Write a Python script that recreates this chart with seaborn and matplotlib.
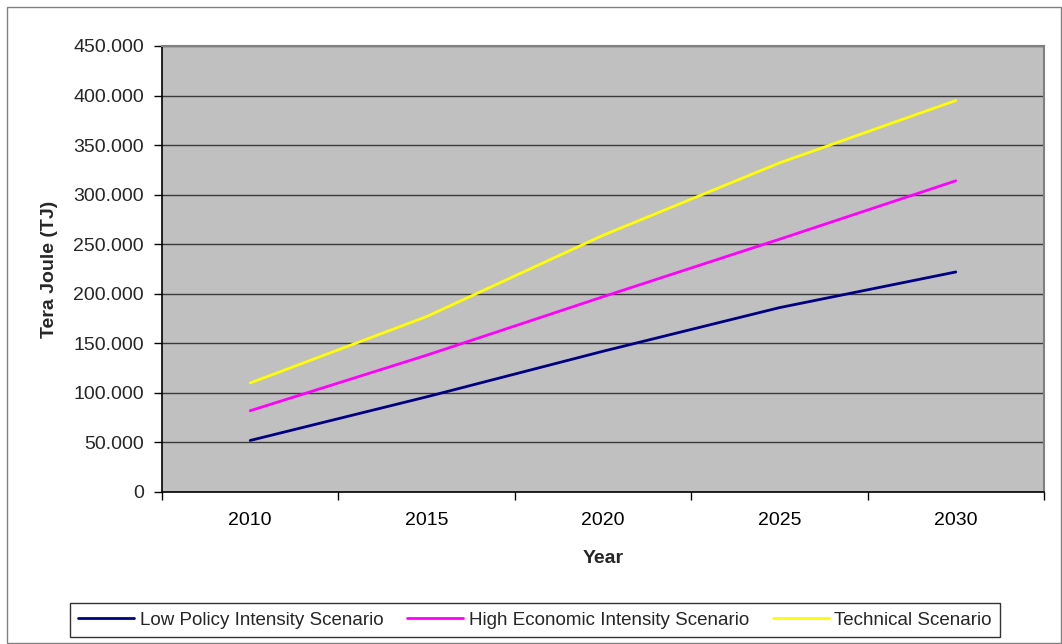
import matplotlib.pyplot as plt
import seaborn as sns
import pandas as pd
from matplotlib.patches import Rectangle
from matplotlib.ticker import FuncFormatter, FixedLocator

# Data (TJ)
years = ['2010', '2015', '2020', '2025', '2030']
low_policy = [52000, 96000, 142000, 186000, 222000]
high_economic = [82000, 138000, 197000, 255000, 314000]
technical = [110000, 177000, 259000, 332000, 395000]

scenarios = ['Low Policy Intensity Scenario', 'High Economic Intensity Scenario', 'Technical Scenario']
colors = ['#000080', '#FF00FF', '#FFFF00']

df = pd.DataFrame({
    'Year': years * 3,
    'TJ': low_policy + high_economic + technical,
    'Scenario': [s for s in scenarios for _ in years],
})

sns.set_theme(style="white")
plt.rcParams['font.family'] = ['Liberation Sans', 'DejaVu Sans']

fig = plt.figure(figsize=(10.62, 6.44), dpi=100)
ax = fig.add_axes([162 / 1062, 1 - 492 / 644, (1044 - 162) / 1062, (492 - 46) / 644])
ax.set_facecolor('#C0C0C0')

sns.lineplot(data=df, x='Year', y='TJ', hue='Scenario', palette=colors,
             linewidth=2.0, ax=ax, legend=False, sort=False)

ax.set_xlim(-0.5, len(years) - 0.5)
ax.set_ylim(0, 450000)
ax.set_yticks(range(0, 450001, 50000))
ax.yaxis.set_major_formatter(FuncFormatter(
    lambda v, p: '0' if v == 0 else '{:,.0f}'.format(v).replace(',', '.')))
ax.yaxis.grid(True, color='#3a3a3a', linewidth=1.0)
ax.set_axisbelow(True)

# category labels centred, tick marks between categories (Excel style)
ax.set_xticks(range(len(years)))
ax.set_xticklabels(years)
ax.xaxis.set_minor_locator(FixedLocator([i - 0.5 for i in range(len(years) + 1)]))
ax.tick_params(axis='x', which='major', length=0, labelsize=14, pad=14.5, colors='black')
ax.tick_params(axis='x', which='minor', length=6, width=1, color='black', direction='out', bottom=True)
ax.tick_params(axis='y', length=6, width=1, color='black', direction='out', left=True, labelsize=14, pad=7)

for side in ['left', 'bottom']:
    ax.spines[side].set_color('black')
    ax.spines[side].set_linewidth(1.2)
for side in ['top', 'right']:
    ax.spines[side].set_color('#808080')
    ax.spines[side].set_linewidth(1.5)

ax.set_xlabel('Year', fontsize=14, fontweight='bold', labelpad=15)
ax.set_ylabel('Tera Joule (TJ)', fontsize=14, fontweight='bold', labelpad=11)

# legend box at the bottom
handles = [plt.Line2D([], [], color=c, linewidth=2.0) for c in colors]
leg = fig.legend(handles, scenarios, loc='center', bbox_to_anchor=(535 / 1062, 1 - 620 / 644),
                 ncol=3, frameon=True, fancybox=False, fontsize=13.5, handlelength=3.0,
                 handletextpad=0.3, columnspacing=1.25, borderpad=0.45)
leg.get_frame().set_edgecolor('black')
leg.get_frame().set_linewidth(1.0)

# outer chart border
fig.patches.append(Rectangle((6.5 / 1062, 1.5 / 644), 1 - 7.5 / 1062, 1 - 8.5 / 644,
                             transform=fig.transFigure, fill=False,
                             edgecolor='#808080', linewidth=1.0))

fig.savefig('out.png', dpi=100)
